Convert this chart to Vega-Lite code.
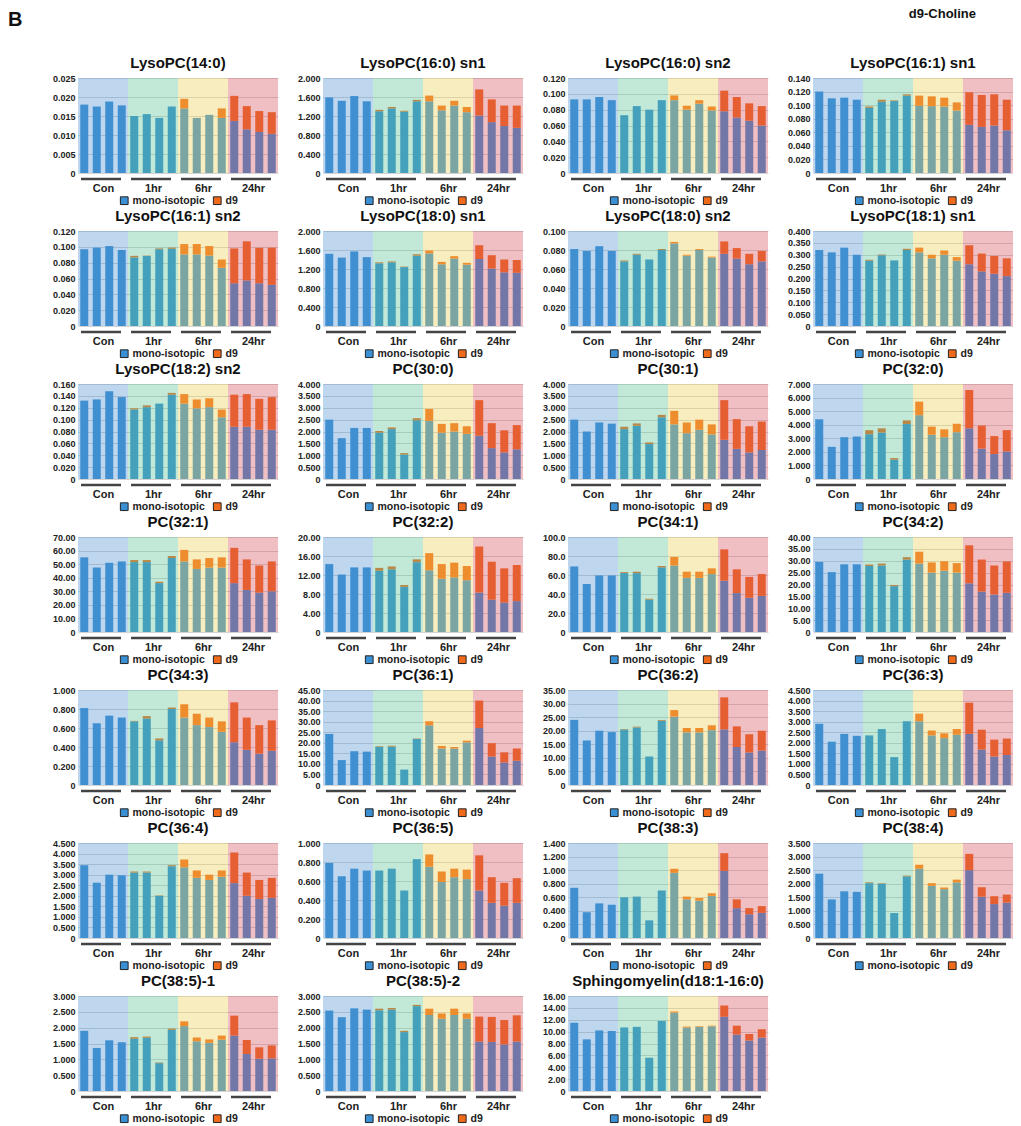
{
"$schema":"https://vega.github.io/schema/vega-lite/v6.json",
"padding":{"left":8,"top":8,"right":0,"bottom":0},
"datasets":{
"g":[{"g":"Con","s":0.5,"e":4.5},{"g":"1hr","s":4.5,"e":8.5},{"g":"6hr","s":8.5,"e":12.5},{"g":"24hr","s":12.5,"e":16.5}],
"v":[
{"k":1,"i":1,"mono-isotopic":0.018,"d9":0},{"k":1,"i":2,"mono-isotopic":0.0175,"d9":0},{"k":1,"i":3,"mono-isotopic":0.0188,"d9":0},{"k":1,"i":4,"mono-isotopic":0.0178,"d9":0},{"k":1,"i":5,"mono-isotopic":0.015,"d9":0},{"k":1,"i":6,"mono-isotopic":0.0155,"d9":0},{"k":1,"i":7,"mono-isotopic":0.0145,"d9":0},{"k":1,"i":8,"mono-isotopic":0.0175,"d9":0},{"k":1,"i":9,"mono-isotopic":0.017,"d9":0.0025},{"k":1,"i":10,"mono-isotopic":0.0145,"d9":0},{"k":1,"i":11,"mono-isotopic":0.0153,"d9":0},{"k":1,"i":12,"mono-isotopic":0.0145,"d9":0.0025},{"k":1,"i":13,"mono-isotopic":0.0137,"d9":0.0066},{"k":1,"i":14,"mono-isotopic":0.0115,"d9":0.0061},{"k":1,"i":15,"mono-isotopic":0.0108,"d9":0.0055},{"k":1,"i":16,"mono-isotopic":0.0103,"d9":0.0057},
{"k":2,"i":1,"mono-isotopic":1.59,"d9":0},{"k":2,"i":2,"mono-isotopic":1.52,"d9":0},{"k":2,"i":3,"mono-isotopic":1.62,"d9":0},{"k":2,"i":4,"mono-isotopic":1.51,"d9":0},{"k":2,"i":5,"mono-isotopic":1.3,"d9":0.03},{"k":2,"i":6,"mono-isotopic":1.36,"d9":0.03},{"k":2,"i":7,"mono-isotopic":1.29,"d9":0.02},{"k":2,"i":8,"mono-isotopic":1.51,"d9":0.03},{"k":2,"i":9,"mono-isotopic":1.51,"d9":0.12},{"k":2,"i":10,"mono-isotopic":1.32,"d9":0.1},{"k":2,"i":11,"mono-isotopic":1.42,"d9":0.1},{"k":2,"i":12,"mono-isotopic":1.28,"d9":0.11},{"k":2,"i":13,"mono-isotopic":1.21,"d9":0.55},{"k":2,"i":14,"mono-isotopic":1.07,"d9":0.48},{"k":2,"i":15,"mono-isotopic":0.99,"d9":0.43},{"k":2,"i":16,"mono-isotopic":0.95,"d9":0.47},
{"k":3,"i":1,"mono-isotopic":0.093,"d9":0},{"k":3,"i":2,"mono-isotopic":0.093,"d9":0},{"k":3,"i":3,"mono-isotopic":0.096,"d9":0},{"k":3,"i":4,"mono-isotopic":0.092,"d9":0},{"k":3,"i":5,"mono-isotopic":0.073,"d9":0},{"k":3,"i":6,"mono-isotopic":0.0845,"d9":0},{"k":3,"i":7,"mono-isotopic":0.08,"d9":0},{"k":3,"i":8,"mono-isotopic":0.092,"d9":0},{"k":3,"i":9,"mono-isotopic":0.092,"d9":0.006},{"k":3,"i":10,"mono-isotopic":0.08,"d9":0.005},{"k":3,"i":11,"mono-isotopic":0.0875,"d9":0.0045},{"k":3,"i":12,"mono-isotopic":0.079,"d9":0.005},{"k":3,"i":13,"mono-isotopic":0.078,"d9":0.026},{"k":3,"i":14,"mono-isotopic":0.07,"d9":0.026},{"k":3,"i":15,"mono-isotopic":0.066,"d9":0.022},{"k":3,"i":16,"mono-isotopic":0.06,"d9":0.0245},
{"k":4,"i":1,"mono-isotopic":0.12,"d9":0},{"k":4,"i":2,"mono-isotopic":0.11,"d9":0},{"k":4,"i":3,"mono-isotopic":0.111,"d9":0},{"k":4,"i":4,"mono-isotopic":0.108,"d9":0},{"k":4,"i":5,"mono-isotopic":0.096,"d9":0.002},{"k":4,"i":6,"mono-isotopic":0.105,"d9":0.003},{"k":4,"i":7,"mono-isotopic":0.106,"d9":0.001},{"k":4,"i":8,"mono-isotopic":0.114,"d9":0.002},{"k":4,"i":9,"mono-isotopic":0.099,"d9":0.015},{"k":4,"i":10,"mono-isotopic":0.0985,"d9":0.0145},{"k":4,"i":11,"mono-isotopic":0.098,"d9":0.013},{"k":4,"i":12,"mono-isotopic":0.092,"d9":0.012},{"k":4,"i":13,"mono-isotopic":0.071,"d9":0.048},{"k":4,"i":14,"mono-isotopic":0.068,"d9":0.047},{"k":4,"i":15,"mono-isotopic":0.07,"d9":0.046},{"k":4,"i":16,"mono-isotopic":0.063,"d9":0.045},
{"k":5,"i":1,"mono-isotopic":0.097,"d9":0},{"k":5,"i":2,"mono-isotopic":0.099,"d9":0},{"k":5,"i":3,"mono-isotopic":0.101,"d9":0},{"k":5,"i":4,"mono-isotopic":0.096,"d9":0},{"k":5,"i":5,"mono-isotopic":0.0866,"d9":0.002},{"k":5,"i":6,"mono-isotopic":0.0884,"d9":0.0005},{"k":5,"i":7,"mono-isotopic":0.097,"d9":0.001},{"k":5,"i":8,"mono-isotopic":0.0975,"d9":0.0015},{"k":5,"i":9,"mono-isotopic":0.0905,"d9":0.013},{"k":5,"i":10,"mono-isotopic":0.0905,"d9":0.013},{"k":5,"i":11,"mono-isotopic":0.089,"d9":0.012},{"k":5,"i":12,"mono-isotopic":0.0736,"d9":0.0104},{"k":5,"i":13,"mono-isotopic":0.054,"d9":0.044},{"k":5,"i":14,"mono-isotopic":0.0576,"d9":0.0494},{"k":5,"i":15,"mono-isotopic":0.054,"d9":0.0448},{"k":5,"i":16,"mono-isotopic":0.052,"d9":0.047},
{"k":6,"i":1,"mono-isotopic":1.52,"d9":0},{"k":6,"i":2,"mono-isotopic":1.44,"d9":0},{"k":6,"i":3,"mono-isotopic":1.57,"d9":0},{"k":6,"i":4,"mono-isotopic":1.45,"d9":0},{"k":6,"i":5,"mono-isotopic":1.32,"d9":0.02},{"k":6,"i":6,"mono-isotopic":1.34,"d9":0.02},{"k":6,"i":7,"mono-isotopic":1.24,"d9":0.01},{"k":6,"i":8,"mono-isotopic":1.48,"d9":0.03},{"k":6,"i":9,"mono-isotopic":1.53,"d9":0.06},{"k":6,"i":10,"mono-isotopic":1.3,"d9":0.05},{"k":6,"i":11,"mono-isotopic":1.42,"d9":0.05},{"k":6,"i":12,"mono-isotopic":1.29,"d9":0.04},{"k":6,"i":13,"mono-isotopic":1.41,"d9":0.29},{"k":6,"i":14,"mono-isotopic":1.21,"d9":0.28},{"k":6,"i":15,"mono-isotopic":1.13,"d9":0.27},{"k":6,"i":16,"mono-isotopic":1.12,"d9":0.27},
{"k":7,"i":1,"mono-isotopic":0.081,"d9":0},{"k":7,"i":2,"mono-isotopic":0.079,"d9":0},{"k":7,"i":3,"mono-isotopic":0.084,"d9":0},{"k":7,"i":4,"mono-isotopic":0.079,"d9":0},{"k":7,"i":5,"mono-isotopic":0.068,"d9":0.001},{"k":7,"i":6,"mono-isotopic":0.075,"d9":0.001},{"k":7,"i":7,"mono-isotopic":0.07,"d9":0},{"k":7,"i":8,"mono-isotopic":0.08,"d9":0.001},{"k":7,"i":9,"mono-isotopic":0.087,"d9":0.0015},{"k":7,"i":10,"mono-isotopic":0.074,"d9":0.001},{"k":7,"i":11,"mono-isotopic":0.08,"d9":0.001},{"k":7,"i":12,"mono-isotopic":0.072,"d9":0.001},{"k":7,"i":13,"mono-isotopic":0.076,"d9":0.013},{"k":7,"i":14,"mono-isotopic":0.071,"d9":0.011},{"k":7,"i":15,"mono-isotopic":0.065,"d9":0.011},{"k":7,"i":16,"mono-isotopic":0.068,"d9":0.011},
{"k":8,"i":1,"mono-isotopic":0.32,"d9":0},{"k":8,"i":2,"mono-isotopic":0.31,"d9":0},{"k":8,"i":3,"mono-isotopic":0.33,"d9":0},{"k":8,"i":4,"mono-isotopic":0.3,"d9":0},{"k":8,"i":5,"mono-isotopic":0.275,"d9":0.004},{"k":8,"i":6,"mono-isotopic":0.298,"d9":0.003},{"k":8,"i":7,"mono-isotopic":0.276,"d9":0},{"k":8,"i":8,"mono-isotopic":0.32,"d9":0.005},{"k":8,"i":9,"mono-isotopic":0.31,"d9":0.02},{"k":8,"i":10,"mono-isotopic":0.285,"d9":0.015},{"k":8,"i":11,"mono-isotopic":0.3,"d9":0.018},{"k":8,"i":12,"mono-isotopic":0.275,"d9":0.015},{"k":8,"i":13,"mono-isotopic":0.26,"d9":0.08},{"k":8,"i":14,"mono-isotopic":0.23,"d9":0.075},{"k":8,"i":15,"mono-isotopic":0.22,"d9":0.075},{"k":8,"i":16,"mono-isotopic":0.21,"d9":0.075},
{"k":9,"i":1,"mono-isotopic":0.132,"d9":0},{"k":9,"i":2,"mono-isotopic":0.134,"d9":0},{"k":9,"i":3,"mono-isotopic":0.148,"d9":0},{"k":9,"i":4,"mono-isotopic":0.138,"d9":0},{"k":9,"i":5,"mono-isotopic":0.117,"d9":0.002},{"k":9,"i":6,"mono-isotopic":0.121,"d9":0.003},{"k":9,"i":7,"mono-isotopic":0.127,"d9":0},{"k":9,"i":8,"mono-isotopic":0.142,"d9":0.003},{"k":9,"i":9,"mono-isotopic":0.127,"d9":0.016},{"k":9,"i":10,"mono-isotopic":0.119,"d9":0.015},{"k":9,"i":11,"mono-isotopic":0.121,"d9":0.015},{"k":9,"i":12,"mono-isotopic":0.104,"d9":0.013},{"k":9,"i":13,"mono-isotopic":0.088,"d9":0.054},{"k":9,"i":14,"mono-isotopic":0.088,"d9":0.055},{"k":9,"i":15,"mono-isotopic":0.083,"d9":0.052},{"k":9,"i":16,"mono-isotopic":0.083,"d9":0.055},
{"k":10,"i":1,"mono-isotopic":2.5,"d9":0},{"k":10,"i":2,"mono-isotopic":1.72,"d9":0},{"k":10,"i":3,"mono-isotopic":2.15,"d9":0},{"k":10,"i":4,"mono-isotopic":2.15,"d9":0},{"k":10,"i":5,"mono-isotopic":1.95,"d9":0.07},{"k":10,"i":6,"mono-isotopic":2.1,"d9":0.07},{"k":10,"i":7,"mono-isotopic":1.03,"d9":0.06},{"k":10,"i":8,"mono-isotopic":2.47,"d9":0.09},{"k":10,"i":9,"mono-isotopic":2.45,"d9":0.5},{"k":10,"i":10,"mono-isotopic":1.95,"d9":0.37},{"k":10,"i":11,"mono-isotopic":2.0,"d9":0.35},{"k":10,"i":12,"mono-isotopic":1.9,"d9":0.32},{"k":10,"i":13,"mono-isotopic":1.82,"d9":1.5},{"k":10,"i":14,"mono-isotopic":1.3,"d9":1.05},{"k":10,"i":15,"mono-isotopic":1.12,"d9":0.93},{"k":10,"i":16,"mono-isotopic":1.25,"d9":1.02},
{"k":11,"i":1,"mono-isotopic":2.5,"d9":0},{"k":11,"i":2,"mono-isotopic":2.0,"d9":0},{"k":11,"i":3,"mono-isotopic":2.38,"d9":0},{"k":11,"i":4,"mono-isotopic":2.33,"d9":0},{"k":11,"i":5,"mono-isotopic":2.1,"d9":0.1},{"k":11,"i":6,"mono-isotopic":2.24,"d9":0.1},{"k":11,"i":7,"mono-isotopic":1.47,"d9":0.07},{"k":11,"i":8,"mono-isotopic":2.6,"d9":0.1},{"k":11,"i":9,"mono-isotopic":2.3,"d9":0.57},{"k":11,"i":10,"mono-isotopic":1.93,"d9":0.45},{"k":11,"i":11,"mono-isotopic":2.07,"d9":0.43},{"k":11,"i":12,"mono-isotopic":1.88,"d9":0.42},{"k":11,"i":13,"mono-isotopic":1.65,"d9":1.67},{"k":11,"i":14,"mono-isotopic":1.27,"d9":1.25},{"k":11,"i":15,"mono-isotopic":1.12,"d9":1.1},{"k":11,"i":16,"mono-isotopic":1.22,"d9":1.2},
{"k":12,"i":1,"mono-isotopic":4.4,"d9":0},{"k":12,"i":2,"mono-isotopic":2.37,"d9":0},{"k":12,"i":3,"mono-isotopic":3.08,"d9":0},{"k":12,"i":4,"mono-isotopic":3.13,"d9":0},{"k":12,"i":5,"mono-isotopic":3.3,"d9":0.3},{"k":12,"i":6,"mono-isotopic":3.42,"d9":0.31},{"k":12,"i":7,"mono-isotopic":1.42,"d9":0.12},{"k":12,"i":8,"mono-isotopic":4.05,"d9":0.27},{"k":12,"i":9,"mono-isotopic":4.7,"d9":1.0},{"k":12,"i":10,"mono-isotopic":3.26,"d9":0.6},{"k":12,"i":11,"mono-isotopic":3.08,"d9":0.58},{"k":12,"i":12,"mono-isotopic":3.45,"d9":0.62},{"k":12,"i":13,"mono-isotopic":3.74,"d9":2.82},{"k":12,"i":14,"mono-isotopic":2.24,"d9":1.7},{"k":12,"i":15,"mono-isotopic":1.84,"d9":1.32},{"k":12,"i":16,"mono-isotopic":2.03,"d9":1.57},
{"k":13,"i":1,"mono-isotopic":55,"d9":0},{"k":13,"i":2,"mono-isotopic":47.5,"d9":0},{"k":13,"i":3,"mono-isotopic":51,"d9":0},{"k":13,"i":4,"mono-isotopic":52,"d9":0},{"k":13,"i":5,"mono-isotopic":51.5,"d9":1.5},{"k":13,"i":6,"mono-isotopic":51.5,"d9":1.5},{"k":13,"i":7,"mono-isotopic":36,"d9":1},{"k":13,"i":8,"mono-isotopic":54.5,"d9":1.5},{"k":13,"i":9,"mono-isotopic":52,"d9":8.5},{"k":13,"i":10,"mono-isotopic":46.5,"d9":7},{"k":13,"i":11,"mono-isotopic":47.5,"d9":7},{"k":13,"i":12,"mono-isotopic":47.5,"d9":7.5},{"k":13,"i":13,"mono-isotopic":36,"d9":26},{"k":13,"i":14,"mono-isotopic":31,"d9":22.5},{"k":13,"i":15,"mono-isotopic":29,"d9":20},{"k":13,"i":16,"mono-isotopic":30,"d9":22},
{"k":14,"i":1,"mono-isotopic":14.3,"d9":0},{"k":14,"i":2,"mono-isotopic":12.1,"d9":0},{"k":14,"i":3,"mono-isotopic":13.6,"d9":0},{"k":14,"i":4,"mono-isotopic":13.6,"d9":0},{"k":14,"i":5,"mono-isotopic":12.9,"d9":0.6},{"k":14,"i":6,"mono-isotopic":13.2,"d9":0.6},{"k":14,"i":7,"mono-isotopic":9.5,"d9":0.4},{"k":14,"i":8,"mono-isotopic":14.7,"d9":0.6},{"k":14,"i":9,"mono-isotopic":13,"d9":3.6},{"k":14,"i":10,"mono-isotopic":11.2,"d9":3.1},{"k":14,"i":11,"mono-isotopic":11.5,"d9":3.1},{"k":14,"i":12,"mono-isotopic":10.9,"d9":3},{"k":14,"i":13,"mono-isotopic":8.3,"d9":9.7},{"k":14,"i":14,"mono-isotopic":6.8,"d9":8},{"k":14,"i":15,"mono-isotopic":6.2,"d9":7.2},{"k":14,"i":16,"mono-isotopic":6.5,"d9":7.6},
{"k":15,"i":1,"mono-isotopic":69,"d9":0},{"k":15,"i":2,"mono-isotopic":50.5,"d9":0},{"k":15,"i":3,"mono-isotopic":59.5,"d9":0},{"k":15,"i":4,"mono-isotopic":59.5,"d9":0},{"k":15,"i":5,"mono-isotopic":62,"d9":1},{"k":15,"i":6,"mono-isotopic":62,"d9":1.5},{"k":15,"i":7,"mono-isotopic":34,"d9":1},{"k":15,"i":8,"mono-isotopic":68,"d9":1.5},{"k":15,"i":9,"mono-isotopic":70,"d9":9},{"k":15,"i":10,"mono-isotopic":57,"d9":6.5},{"k":15,"i":11,"mono-isotopic":57,"d9":6.5},{"k":15,"i":12,"mono-isotopic":61,"d9":6},{"k":15,"i":13,"mono-isotopic":54,"d9":33},{"k":15,"i":14,"mono-isotopic":41,"d9":25},{"k":15,"i":15,"mono-isotopic":36,"d9":22},{"k":15,"i":16,"mono-isotopic":38,"d9":23},
{"k":16,"i":1,"mono-isotopic":29.5,"d9":0},{"k":16,"i":2,"mono-isotopic":25.2,"d9":0},{"k":16,"i":3,"mono-isotopic":28.5,"d9":0},{"k":16,"i":4,"mono-isotopic":28.5,"d9":0},{"k":16,"i":5,"mono-isotopic":27.8,"d9":0.6},{"k":16,"i":6,"mono-isotopic":28,"d9":0.8},{"k":16,"i":7,"mono-isotopic":19.3,"d9":0.5},{"k":16,"i":8,"mono-isotopic":30.5,"d9":1},{"k":16,"i":9,"mono-isotopic":28.8,"d9":5},{"k":16,"i":10,"mono-isotopic":25,"d9":4.3},{"k":16,"i":11,"mono-isotopic":25.8,"d9":4},{"k":16,"i":12,"mono-isotopic":25,"d9":4},{"k":16,"i":13,"mono-isotopic":20.5,"d9":16},{"k":16,"i":14,"mono-isotopic":17,"d9":13.5},{"k":16,"i":15,"mono-isotopic":15.8,"d9":12.2},{"k":16,"i":16,"mono-isotopic":16.5,"d9":13.2},
{"k":17,"i":1,"mono-isotopic":0.81,"d9":0},{"k":17,"i":2,"mono-isotopic":0.65,"d9":0},{"k":17,"i":3,"mono-isotopic":0.73,"d9":0},{"k":17,"i":4,"mono-isotopic":0.71,"d9":0},{"k":17,"i":5,"mono-isotopic":0.67,"d9":0.005},{"k":17,"i":6,"mono-isotopic":0.7,"d9":0.025},{"k":17,"i":7,"mono-isotopic":0.47,"d9":0.02},{"k":17,"i":8,"mono-isotopic":0.8,"d9":0.015},{"k":17,"i":9,"mono-isotopic":0.71,"d9":0.14},{"k":17,"i":10,"mono-isotopic":0.63,"d9":0.12},{"k":17,"i":11,"mono-isotopic":0.61,"d9":0.1},{"k":17,"i":12,"mono-isotopic":0.56,"d9":0.11},{"k":17,"i":13,"mono-isotopic":0.45,"d9":0.42},{"k":17,"i":14,"mono-isotopic":0.37,"d9":0.34},{"k":17,"i":15,"mono-isotopic":0.33,"d9":0.3},{"k":17,"i":16,"mono-isotopic":0.36,"d9":0.32},
{"k":18,"i":1,"mono-isotopic":24.2,"d9":0},{"k":18,"i":2,"mono-isotopic":11.8,"d9":0},{"k":18,"i":3,"mono-isotopic":16,"d9":0},{"k":18,"i":4,"mono-isotopic":15.8,"d9":0},{"k":18,"i":5,"mono-isotopic":18,"d9":0.3},{"k":18,"i":6,"mono-isotopic":18.2,"d9":0.4},{"k":18,"i":7,"mono-isotopic":7.3,"d9":0},{"k":18,"i":8,"mono-isotopic":21.8,"d9":0.2},{"k":18,"i":9,"mono-isotopic":28.3,"d9":1.9},{"k":18,"i":10,"mono-isotopic":17.3,"d9":1.2},{"k":18,"i":11,"mono-isotopic":17.3,"d9":0.7},{"k":18,"i":12,"mono-isotopic":20.2,"d9":0.8},{"k":18,"i":13,"mono-isotopic":27,"d9":13},{"k":18,"i":14,"mono-isotopic":13.5,"d9":6.3},{"k":18,"i":15,"mono-isotopic":10.7,"d9":4.8},{"k":18,"i":16,"mono-isotopic":11.5,"d9":5.8},
{"k":19,"i":1,"mono-isotopic":24,"d9":0},{"k":19,"i":2,"mono-isotopic":16.4,"d9":0},{"k":19,"i":3,"mono-isotopic":20,"d9":0},{"k":19,"i":4,"mono-isotopic":19.5,"d9":0},{"k":19,"i":5,"mono-isotopic":20.4,"d9":0.2},{"k":19,"i":6,"mono-isotopic":21.2,"d9":0.3},{"k":19,"i":7,"mono-isotopic":10.5,"d9":0},{"k":19,"i":8,"mono-isotopic":23.6,"d9":0.3},{"k":19,"i":9,"mono-isotopic":25.2,"d9":2.4},{"k":19,"i":10,"mono-isotopic":19.4,"d9":1.6},{"k":19,"i":11,"mono-isotopic":19.4,"d9":1.6},{"k":19,"i":12,"mono-isotopic":20.2,"d9":1.8},{"k":19,"i":13,"mono-isotopic":20.5,"d9":11.8},{"k":19,"i":14,"mono-isotopic":14,"d9":7.6},{"k":19,"i":15,"mono-isotopic":12,"d9":6.7},{"k":19,"i":16,"mono-isotopic":12.7,"d9":7.3},
{"k":20,"i":1,"mono-isotopic":2.9,"d9":0},{"k":20,"i":2,"mono-isotopic":2.05,"d9":0},{"k":20,"i":3,"mono-isotopic":2.42,"d9":0},{"k":20,"i":4,"mono-isotopic":2.33,"d9":0},{"k":20,"i":5,"mono-isotopic":2.35,"d9":0},{"k":20,"i":6,"mono-isotopic":2.65,"d9":0},{"k":20,"i":7,"mono-isotopic":1.32,"d9":0},{"k":20,"i":8,"mono-isotopic":3.02,"d9":0},{"k":20,"i":9,"mono-isotopic":3.02,"d9":0.36},{"k":20,"i":10,"mono-isotopic":2.35,"d9":0.23},{"k":20,"i":11,"mono-isotopic":2.22,"d9":0.23},{"k":20,"i":12,"mono-isotopic":2.38,"d9":0.27},{"k":20,"i":13,"mono-isotopic":2.42,"d9":1.48},{"k":20,"i":14,"mono-isotopic":1.68,"d9":0.94},{"k":20,"i":15,"mono-isotopic":1.35,"d9":0.8},{"k":20,"i":16,"mono-isotopic":1.42,"d9":0.78},
{"k":21,"i":1,"mono-isotopic":3.45,"d9":0},{"k":21,"i":2,"mono-isotopic":2.62,"d9":0},{"k":21,"i":3,"mono-isotopic":3.0,"d9":0},{"k":21,"i":4,"mono-isotopic":2.97,"d9":0},{"k":21,"i":5,"mono-isotopic":3.1,"d9":0.05},{"k":21,"i":6,"mono-isotopic":3.1,"d9":0.05},{"k":21,"i":7,"mono-isotopic":2.0,"d9":0.02},{"k":21,"i":8,"mono-isotopic":3.4,"d9":0.05},{"k":21,"i":9,"mono-isotopic":3.35,"d9":0.37},{"k":21,"i":10,"mono-isotopic":2.85,"d9":0.35},{"k":21,"i":11,"mono-isotopic":2.75,"d9":0.25},{"k":21,"i":12,"mono-isotopic":2.9,"d9":0.3},{"k":21,"i":13,"mono-isotopic":2.6,"d9":1.45},{"k":21,"i":14,"mono-isotopic":2.0,"d9":1.1},{"k":21,"i":15,"mono-isotopic":1.85,"d9":0.9},{"k":21,"i":16,"mono-isotopic":1.9,"d9":0.95},
{"k":22,"i":1,"mono-isotopic":0.79,"d9":0},{"k":22,"i":2,"mono-isotopic":0.65,"d9":0},{"k":22,"i":3,"mono-isotopic":0.73,"d9":0},{"k":22,"i":4,"mono-isotopic":0.71,"d9":0},{"k":22,"i":5,"mono-isotopic":0.71,"d9":0},{"k":22,"i":6,"mono-isotopic":0.73,"d9":0},{"k":22,"i":7,"mono-isotopic":0.5,"d9":0},{"k":22,"i":8,"mono-isotopic":0.83,"d9":0},{"k":22,"i":9,"mono-isotopic":0.75,"d9":0.13},{"k":22,"i":10,"mono-isotopic":0.59,"d9":0.11},{"k":22,"i":11,"mono-isotopic":0.64,"d9":0.09},{"k":22,"i":12,"mono-isotopic":0.62,"d9":0.1},{"k":22,"i":13,"mono-isotopic":0.5,"d9":0.37},{"k":22,"i":14,"mono-isotopic":0.37,"d9":0.27},{"k":22,"i":15,"mono-isotopic":0.34,"d9":0.24},{"k":22,"i":16,"mono-isotopic":0.37,"d9":0.26},
{"k":23,"i":1,"mono-isotopic":0.74,"d9":0},{"k":23,"i":2,"mono-isotopic":0.38,"d9":0},{"k":23,"i":3,"mono-isotopic":0.51,"d9":0},{"k":23,"i":4,"mono-isotopic":0.49,"d9":0},{"k":23,"i":5,"mono-isotopic":0.6,"d9":0},{"k":23,"i":6,"mono-isotopic":0.61,"d9":0},{"k":23,"i":7,"mono-isotopic":0.26,"d9":0},{"k":23,"i":8,"mono-isotopic":0.7,"d9":0},{"k":23,"i":9,"mono-isotopic":0.96,"d9":0.06},{"k":23,"i":10,"mono-isotopic":0.57,"d9":0.04},{"k":23,"i":11,"mono-isotopic":0.55,"d9":0.04},{"k":23,"i":12,"mono-isotopic":0.62,"d9":0.04},{"k":23,"i":13,"mono-isotopic":0.99,"d9":0.26},{"k":23,"i":14,"mono-isotopic":0.44,"d9":0.13},{"k":23,"i":15,"mono-isotopic":0.35,"d9":0.09},{"k":23,"i":16,"mono-isotopic":0.37,"d9":0.1},
{"k":24,"i":1,"mono-isotopic":2.37,"d9":0},{"k":24,"i":2,"mono-isotopic":1.42,"d9":0},{"k":24,"i":3,"mono-isotopic":1.72,"d9":0},{"k":24,"i":4,"mono-isotopic":1.7,"d9":0},{"k":24,"i":5,"mono-isotopic":2.02,"d9":0.03},{"k":24,"i":6,"mono-isotopic":2.0,"d9":0.02},{"k":24,"i":7,"mono-isotopic":0.92,"d9":0},{"k":24,"i":8,"mono-isotopic":2.27,"d9":0.03},{"k":24,"i":9,"mono-isotopic":2.55,"d9":0.15},{"k":24,"i":10,"mono-isotopic":1.92,"d9":0.1},{"k":24,"i":11,"mono-isotopic":1.8,"d9":0.06},{"k":24,"i":12,"mono-isotopic":2.05,"d9":0.1},{"k":24,"i":13,"mono-isotopic":2.5,"d9":0.6},{"k":24,"i":14,"mono-isotopic":1.52,"d9":0.35},{"k":24,"i":15,"mono-isotopic":1.25,"d9":0.29},{"k":24,"i":16,"mono-isotopic":1.3,"d9":0.3},
{"k":25,"i":1,"mono-isotopic":1.9,"d9":0},{"k":25,"i":2,"mono-isotopic":1.36,"d9":0},{"k":25,"i":3,"mono-isotopic":1.6,"d9":0},{"k":25,"i":4,"mono-isotopic":1.54,"d9":0},{"k":25,"i":5,"mono-isotopic":1.65,"d9":0.05},{"k":25,"i":6,"mono-isotopic":1.68,"d9":0.04},{"k":25,"i":7,"mono-isotopic":0.88,"d9":0.02},{"k":25,"i":8,"mono-isotopic":1.93,"d9":0.04},{"k":25,"i":9,"mono-isotopic":2.05,"d9":0.15},{"k":25,"i":10,"mono-isotopic":1.57,"d9":0.12},{"k":25,"i":11,"mono-isotopic":1.52,"d9":0.11},{"k":25,"i":12,"mono-isotopic":1.62,"d9":0.13},{"k":25,"i":13,"mono-isotopic":1.75,"d9":0.63},{"k":25,"i":14,"mono-isotopic":1.17,"d9":0.44},{"k":25,"i":15,"mono-isotopic":1.02,"d9":0.36},{"k":25,"i":16,"mono-isotopic":1.03,"d9":0.41},
{"k":26,"i":1,"mono-isotopic":2.54,"d9":0},{"k":26,"i":2,"mono-isotopic":2.33,"d9":0},{"k":26,"i":3,"mono-isotopic":2.61,"d9":0},{"k":26,"i":4,"mono-isotopic":2.57,"d9":0},{"k":26,"i":5,"mono-isotopic":2.55,"d9":0.05},{"k":26,"i":6,"mono-isotopic":2.57,"d9":0.05},{"k":26,"i":7,"mono-isotopic":1.86,"d9":0.04},{"k":26,"i":8,"mono-isotopic":2.68,"d9":0.04},{"k":26,"i":9,"mono-isotopic":2.4,"d9":0.2},{"k":26,"i":10,"mono-isotopic":2.28,"d9":0.17},{"k":26,"i":11,"mono-isotopic":2.4,"d9":0.2},{"k":26,"i":12,"mono-isotopic":2.28,"d9":0.17},{"k":26,"i":13,"mono-isotopic":1.56,"d9":0.79},{"k":26,"i":14,"mono-isotopic":1.55,"d9":0.79},{"k":26,"i":15,"mono-isotopic":1.47,"d9":0.77},{"k":26,"i":16,"mono-isotopic":1.56,"d9":0.83},
{"k":27,"i":1,"mono-isotopic":11.5,"d9":0},{"k":27,"i":2,"mono-isotopic":8.7,"d9":0},{"k":27,"i":3,"mono-isotopic":10.2,"d9":0},{"k":27,"i":4,"mono-isotopic":10.1,"d9":0},{"k":27,"i":5,"mono-isotopic":10.7,"d9":0},{"k":27,"i":6,"mono-isotopic":10.8,"d9":0},{"k":27,"i":7,"mono-isotopic":5.6,"d9":0},{"k":27,"i":8,"mono-isotopic":11.8,"d9":0},{"k":27,"i":9,"mono-isotopic":13.2,"d9":0.2},{"k":27,"i":10,"mono-isotopic":10.7,"d9":0.15},{"k":27,"i":11,"mono-isotopic":10.8,"d9":0.1},{"k":27,"i":12,"mono-isotopic":10.9,"d9":0.1},{"k":27,"i":13,"mono-isotopic":12.5,"d9":1.9},{"k":27,"i":14,"mono-isotopic":9.5,"d9":1.5},{"k":27,"i":15,"mono-isotopic":8.5,"d9":1.1},{"k":27,"i":16,"mono-isotopic":9,"d9":1.4}
]},
"hconcat":[
{"width":39,"height":10,"title":{"text":"B","anchor":"start","fontSize":20,"offset":48},"data":{"values":[]},"mark":{"type":"point"}},
{
"title":{"text":"d9-Choline","anchor":"end","fontSize":13,"dx":-37,"offset":35},
"columns":4,
"spacing":{"row":2,"column":19},
"resolve":{"scale":{"color":"independent","fill":"independent"},"legend":{"color":"independent"}},
"concat":[
{"title":"LysoPC(14:0)","width":200,"height":95,"layer":[{"data":{"name":"v"},"transform":[{"filter":"datum.k==1"},{"fold":["mono-isotopic","d9"],"as":["iso","val"]}],"mark":{"type":"bar","width":8},"encoding":{"x":{"field":"i","type":"quantitative","scale":{"domain":[0.5,16.5],"nice":false,"zero":false,"padding":0},"axis":{"values":[2.5,6.5,10.5,14.5],"labelExpr":"datum.value<3?'Con':datum.value<7?'1hr':datum.value<11?'6hr':'24hr'","title":null}},"y":{"field":"val","type":"quantitative","stack":"zero","scale":{"domain":[0,0.025],"nice":false},"axis":{"values":[0,0.005,0.01,0.015,0.02,0.025],"labelExpr":"datum.value==0?'0':format(datum.value,'.3f')","title":null}},"color":{"field":"iso","type":"nominal","scale":{"domain":["mono-isotopic","d9"],"range":["#3b8fd3","#f06a1c"]},"legend":{"title":null}},"order":{"field":"iso","sort":"descending"}}},{"data":{"name":"g"},"mark":{"type":"rect","opacity":0.355},"encoding":{"x":{"field":"s","type":"quantitative","axis":{"title":null}},"x2":{"field":"e"},"y":{"value":0},"y2":{"value":"height"},"fill":{"field":"g","type":"nominal","scale":{"domain":["Con","1hr","6hr","24hr"],"range":["#4a90d0","#53be91","#ebcc4d","#d54d59"]},"legend":null}}},{"data":{"name":"g"},"mark":{"type":"rule","color":"#444","strokeWidth":2.5,"yOffset":6,"xOffset":3,"x2Offset":-7},"encoding":{"x":{"field":"s","type":"quantitative","axis":{"title":null}},"x2":{"field":"e"},"y":{"value":"height"}}}]},
{"title":"LysoPC(16:0) sn1","width":200,"height":95,"layer":[{"data":{"name":"v"},"transform":[{"filter":"datum.k==2"},{"fold":["mono-isotopic","d9"],"as":["iso","val"]}],"mark":{"type":"bar","width":8},"encoding":{"x":{"field":"i","type":"quantitative","scale":{"domain":[0.5,16.5],"nice":false,"zero":false,"padding":0},"axis":{"values":[2.5,6.5,10.5,14.5],"labelExpr":"datum.value<3?'Con':datum.value<7?'1hr':datum.value<11?'6hr':'24hr'","title":null}},"y":{"field":"val","type":"quantitative","stack":"zero","scale":{"domain":[0,2],"nice":false},"axis":{"values":[0,0.4,0.8,1.2,1.6,2],"labelExpr":"datum.value==0?'0':format(datum.value,'.3f')","title":null}},"color":{"field":"iso","type":"nominal","scale":{"domain":["mono-isotopic","d9"],"range":["#3b8fd3","#f06a1c"]},"legend":{"title":null}},"order":{"field":"iso","sort":"descending"}}},{"data":{"name":"g"},"mark":{"type":"rect","opacity":0.355},"encoding":{"x":{"field":"s","type":"quantitative","axis":{"title":null}},"x2":{"field":"e"},"y":{"value":0},"y2":{"value":"height"},"fill":{"field":"g","type":"nominal","scale":{"domain":["Con","1hr","6hr","24hr"],"range":["#4a90d0","#53be91","#ebcc4d","#d54d59"]},"legend":null}}},{"data":{"name":"g"},"mark":{"type":"rule","color":"#444","strokeWidth":2.5,"yOffset":6,"xOffset":3,"x2Offset":-7},"encoding":{"x":{"field":"s","type":"quantitative","axis":{"title":null}},"x2":{"field":"e"},"y":{"value":"height"}}}]},
{"title":"LysoPC(16:0) sn2","width":200,"height":95,"layer":[{"data":{"name":"v"},"transform":[{"filter":"datum.k==3"},{"fold":["mono-isotopic","d9"],"as":["iso","val"]}],"mark":{"type":"bar","width":8},"encoding":{"x":{"field":"i","type":"quantitative","scale":{"domain":[0.5,16.5],"nice":false,"zero":false,"padding":0},"axis":{"values":[2.5,6.5,10.5,14.5],"labelExpr":"datum.value<3?'Con':datum.value<7?'1hr':datum.value<11?'6hr':'24hr'","title":null}},"y":{"field":"val","type":"quantitative","stack":"zero","scale":{"domain":[0,0.12],"nice":false},"axis":{"values":[0,0.02,0.04,0.06,0.08,0.1,0.12],"labelExpr":"datum.value==0?'0':format(datum.value,'.3f')","title":null}},"color":{"field":"iso","type":"nominal","scale":{"domain":["mono-isotopic","d9"],"range":["#3b8fd3","#f06a1c"]},"legend":{"title":null}},"order":{"field":"iso","sort":"descending"}}},{"data":{"name":"g"},"mark":{"type":"rect","opacity":0.355},"encoding":{"x":{"field":"s","type":"quantitative","axis":{"title":null}},"x2":{"field":"e"},"y":{"value":0},"y2":{"value":"height"},"fill":{"field":"g","type":"nominal","scale":{"domain":["Con","1hr","6hr","24hr"],"range":["#4a90d0","#53be91","#ebcc4d","#d54d59"]},"legend":null}}},{"data":{"name":"g"},"mark":{"type":"rule","color":"#444","strokeWidth":2.5,"yOffset":6,"xOffset":3,"x2Offset":-7},"encoding":{"x":{"field":"s","type":"quantitative","axis":{"title":null}},"x2":{"field":"e"},"y":{"value":"height"}}}]},
{"title":"LysoPC(16:1) sn1","width":200,"height":95,"layer":[{"data":{"name":"v"},"transform":[{"filter":"datum.k==4"},{"fold":["mono-isotopic","d9"],"as":["iso","val"]}],"mark":{"type":"bar","width":8},"encoding":{"x":{"field":"i","type":"quantitative","scale":{"domain":[0.5,16.5],"nice":false,"zero":false,"padding":0},"axis":{"values":[2.5,6.5,10.5,14.5],"labelExpr":"datum.value<3?'Con':datum.value<7?'1hr':datum.value<11?'6hr':'24hr'","title":null}},"y":{"field":"val","type":"quantitative","stack":"zero","scale":{"domain":[0,0.14],"nice":false},"axis":{"values":[0,0.02,0.04,0.06,0.08,0.1,0.12,0.14],"labelExpr":"datum.value==0?'0':format(datum.value,'.3f')","title":null}},"color":{"field":"iso","type":"nominal","scale":{"domain":["mono-isotopic","d9"],"range":["#3b8fd3","#f06a1c"]},"legend":{"title":null}},"order":{"field":"iso","sort":"descending"}}},{"data":{"name":"g"},"mark":{"type":"rect","opacity":0.355},"encoding":{"x":{"field":"s","type":"quantitative","axis":{"title":null}},"x2":{"field":"e"},"y":{"value":0},"y2":{"value":"height"},"fill":{"field":"g","type":"nominal","scale":{"domain":["Con","1hr","6hr","24hr"],"range":["#4a90d0","#53be91","#ebcc4d","#d54d59"]},"legend":null}}},{"data":{"name":"g"},"mark":{"type":"rule","color":"#444","strokeWidth":2.5,"yOffset":6,"xOffset":3,"x2Offset":-7},"encoding":{"x":{"field":"s","type":"quantitative","axis":{"title":null}},"x2":{"field":"e"},"y":{"value":"height"}}}]},
{"title":"LysoPC(16:1) sn2","width":200,"height":95,"layer":[{"data":{"name":"v"},"transform":[{"filter":"datum.k==5"},{"fold":["mono-isotopic","d9"],"as":["iso","val"]}],"mark":{"type":"bar","width":8},"encoding":{"x":{"field":"i","type":"quantitative","scale":{"domain":[0.5,16.5],"nice":false,"zero":false,"padding":0},"axis":{"values":[2.5,6.5,10.5,14.5],"labelExpr":"datum.value<3?'Con':datum.value<7?'1hr':datum.value<11?'6hr':'24hr'","title":null}},"y":{"field":"val","type":"quantitative","stack":"zero","scale":{"domain":[0,0.12],"nice":false},"axis":{"values":[0,0.02,0.04,0.06,0.08,0.1,0.12],"labelExpr":"datum.value==0?'0':format(datum.value,'.3f')","title":null}},"color":{"field":"iso","type":"nominal","scale":{"domain":["mono-isotopic","d9"],"range":["#3b8fd3","#f06a1c"]},"legend":{"title":null}},"order":{"field":"iso","sort":"descending"}}},{"data":{"name":"g"},"mark":{"type":"rect","opacity":0.355},"encoding":{"x":{"field":"s","type":"quantitative","axis":{"title":null}},"x2":{"field":"e"},"y":{"value":0},"y2":{"value":"height"},"fill":{"field":"g","type":"nominal","scale":{"domain":["Con","1hr","6hr","24hr"],"range":["#4a90d0","#53be91","#ebcc4d","#d54d59"]},"legend":null}}},{"data":{"name":"g"},"mark":{"type":"rule","color":"#444","strokeWidth":2.5,"yOffset":6,"xOffset":3,"x2Offset":-7},"encoding":{"x":{"field":"s","type":"quantitative","axis":{"title":null}},"x2":{"field":"e"},"y":{"value":"height"}}}]},
{"title":"LysoPC(18:0) sn1","width":200,"height":95,"layer":[{"data":{"name":"v"},"transform":[{"filter":"datum.k==6"},{"fold":["mono-isotopic","d9"],"as":["iso","val"]}],"mark":{"type":"bar","width":8},"encoding":{"x":{"field":"i","type":"quantitative","scale":{"domain":[0.5,16.5],"nice":false,"zero":false,"padding":0},"axis":{"values":[2.5,6.5,10.5,14.5],"labelExpr":"datum.value<3?'Con':datum.value<7?'1hr':datum.value<11?'6hr':'24hr'","title":null}},"y":{"field":"val","type":"quantitative","stack":"zero","scale":{"domain":[0,2],"nice":false},"axis":{"values":[0,0.4,0.8,1.2,1.6,2],"labelExpr":"datum.value==0?'0':format(datum.value,'.3f')","title":null}},"color":{"field":"iso","type":"nominal","scale":{"domain":["mono-isotopic","d9"],"range":["#3b8fd3","#f06a1c"]},"legend":{"title":null}},"order":{"field":"iso","sort":"descending"}}},{"data":{"name":"g"},"mark":{"type":"rect","opacity":0.355},"encoding":{"x":{"field":"s","type":"quantitative","axis":{"title":null}},"x2":{"field":"e"},"y":{"value":0},"y2":{"value":"height"},"fill":{"field":"g","type":"nominal","scale":{"domain":["Con","1hr","6hr","24hr"],"range":["#4a90d0","#53be91","#ebcc4d","#d54d59"]},"legend":null}}},{"data":{"name":"g"},"mark":{"type":"rule","color":"#444","strokeWidth":2.5,"yOffset":6,"xOffset":3,"x2Offset":-7},"encoding":{"x":{"field":"s","type":"quantitative","axis":{"title":null}},"x2":{"field":"e"},"y":{"value":"height"}}}]},
{"title":"LysoPC(18:0) sn2","width":200,"height":95,"layer":[{"data":{"name":"v"},"transform":[{"filter":"datum.k==7"},{"fold":["mono-isotopic","d9"],"as":["iso","val"]}],"mark":{"type":"bar","width":8},"encoding":{"x":{"field":"i","type":"quantitative","scale":{"domain":[0.5,16.5],"nice":false,"zero":false,"padding":0},"axis":{"values":[2.5,6.5,10.5,14.5],"labelExpr":"datum.value<3?'Con':datum.value<7?'1hr':datum.value<11?'6hr':'24hr'","title":null}},"y":{"field":"val","type":"quantitative","stack":"zero","scale":{"domain":[0,0.1],"nice":false},"axis":{"values":[0,0.02,0.04,0.06,0.08,0.1],"labelExpr":"datum.value==0?'0':format(datum.value,'.3f')","title":null}},"color":{"field":"iso","type":"nominal","scale":{"domain":["mono-isotopic","d9"],"range":["#3b8fd3","#f06a1c"]},"legend":{"title":null}},"order":{"field":"iso","sort":"descending"}}},{"data":{"name":"g"},"mark":{"type":"rect","opacity":0.355},"encoding":{"x":{"field":"s","type":"quantitative","axis":{"title":null}},"x2":{"field":"e"},"y":{"value":0},"y2":{"value":"height"},"fill":{"field":"g","type":"nominal","scale":{"domain":["Con","1hr","6hr","24hr"],"range":["#4a90d0","#53be91","#ebcc4d","#d54d59"]},"legend":null}}},{"data":{"name":"g"},"mark":{"type":"rule","color":"#444","strokeWidth":2.5,"yOffset":6,"xOffset":3,"x2Offset":-7},"encoding":{"x":{"field":"s","type":"quantitative","axis":{"title":null}},"x2":{"field":"e"},"y":{"value":"height"}}}]},
{"title":"LysoPC(18:1) sn1","width":200,"height":95,"layer":[{"data":{"name":"v"},"transform":[{"filter":"datum.k==8"},{"fold":["mono-isotopic","d9"],"as":["iso","val"]}],"mark":{"type":"bar","width":8},"encoding":{"x":{"field":"i","type":"quantitative","scale":{"domain":[0.5,16.5],"nice":false,"zero":false,"padding":0},"axis":{"values":[2.5,6.5,10.5,14.5],"labelExpr":"datum.value<3?'Con':datum.value<7?'1hr':datum.value<11?'6hr':'24hr'","title":null}},"y":{"field":"val","type":"quantitative","stack":"zero","scale":{"domain":[0,0.4],"nice":false},"axis":{"values":[0,0.05,0.1,0.15,0.2,0.25,0.3,0.35,0.4],"labelExpr":"datum.value==0?'0':format(datum.value,'.3f')","title":null}},"color":{"field":"iso","type":"nominal","scale":{"domain":["mono-isotopic","d9"],"range":["#3b8fd3","#f06a1c"]},"legend":{"title":null}},"order":{"field":"iso","sort":"descending"}}},{"data":{"name":"g"},"mark":{"type":"rect","opacity":0.355},"encoding":{"x":{"field":"s","type":"quantitative","axis":{"title":null}},"x2":{"field":"e"},"y":{"value":0},"y2":{"value":"height"},"fill":{"field":"g","type":"nominal","scale":{"domain":["Con","1hr","6hr","24hr"],"range":["#4a90d0","#53be91","#ebcc4d","#d54d59"]},"legend":null}}},{"data":{"name":"g"},"mark":{"type":"rule","color":"#444","strokeWidth":2.5,"yOffset":6,"xOffset":3,"x2Offset":-7},"encoding":{"x":{"field":"s","type":"quantitative","axis":{"title":null}},"x2":{"field":"e"},"y":{"value":"height"}}}]},
{"title":"LysoPC(18:2) sn2","width":200,"height":95,"layer":[{"data":{"name":"v"},"transform":[{"filter":"datum.k==9"},{"fold":["mono-isotopic","d9"],"as":["iso","val"]}],"mark":{"type":"bar","width":8},"encoding":{"x":{"field":"i","type":"quantitative","scale":{"domain":[0.5,16.5],"nice":false,"zero":false,"padding":0},"axis":{"values":[2.5,6.5,10.5,14.5],"labelExpr":"datum.value<3?'Con':datum.value<7?'1hr':datum.value<11?'6hr':'24hr'","title":null}},"y":{"field":"val","type":"quantitative","stack":"zero","scale":{"domain":[0,0.16],"nice":false},"axis":{"values":[0,0.02,0.04,0.06,0.08,0.1,0.12,0.14,0.16],"labelExpr":"datum.value==0?'0':format(datum.value,'.3f')","title":null}},"color":{"field":"iso","type":"nominal","scale":{"domain":["mono-isotopic","d9"],"range":["#3b8fd3","#f06a1c"]},"legend":{"title":null}},"order":{"field":"iso","sort":"descending"}}},{"data":{"name":"g"},"mark":{"type":"rect","opacity":0.355},"encoding":{"x":{"field":"s","type":"quantitative","axis":{"title":null}},"x2":{"field":"e"},"y":{"value":0},"y2":{"value":"height"},"fill":{"field":"g","type":"nominal","scale":{"domain":["Con","1hr","6hr","24hr"],"range":["#4a90d0","#53be91","#ebcc4d","#d54d59"]},"legend":null}}},{"data":{"name":"g"},"mark":{"type":"rule","color":"#444","strokeWidth":2.5,"yOffset":6,"xOffset":3,"x2Offset":-7},"encoding":{"x":{"field":"s","type":"quantitative","axis":{"title":null}},"x2":{"field":"e"},"y":{"value":"height"}}}]},
{"title":"PC(30:0)","width":200,"height":95,"layer":[{"data":{"name":"v"},"transform":[{"filter":"datum.k==10"},{"fold":["mono-isotopic","d9"],"as":["iso","val"]}],"mark":{"type":"bar","width":8},"encoding":{"x":{"field":"i","type":"quantitative","scale":{"domain":[0.5,16.5],"nice":false,"zero":false,"padding":0},"axis":{"values":[2.5,6.5,10.5,14.5],"labelExpr":"datum.value<3?'Con':datum.value<7?'1hr':datum.value<11?'6hr':'24hr'","title":null}},"y":{"field":"val","type":"quantitative","stack":"zero","scale":{"domain":[0,4],"nice":false},"axis":{"values":[0,0.5,1,1.5,2,2.5,3,3.5,4],"labelExpr":"datum.value==0?'0':format(datum.value,'.3f')","title":null}},"color":{"field":"iso","type":"nominal","scale":{"domain":["mono-isotopic","d9"],"range":["#3b8fd3","#f06a1c"]},"legend":{"title":null}},"order":{"field":"iso","sort":"descending"}}},{"data":{"name":"g"},"mark":{"type":"rect","opacity":0.355},"encoding":{"x":{"field":"s","type":"quantitative","axis":{"title":null}},"x2":{"field":"e"},"y":{"value":0},"y2":{"value":"height"},"fill":{"field":"g","type":"nominal","scale":{"domain":["Con","1hr","6hr","24hr"],"range":["#4a90d0","#53be91","#ebcc4d","#d54d59"]},"legend":null}}},{"data":{"name":"g"},"mark":{"type":"rule","color":"#444","strokeWidth":2.5,"yOffset":6,"xOffset":3,"x2Offset":-7},"encoding":{"x":{"field":"s","type":"quantitative","axis":{"title":null}},"x2":{"field":"e"},"y":{"value":"height"}}}]},
{"title":"PC(30:1)","width":200,"height":95,"layer":[{"data":{"name":"v"},"transform":[{"filter":"datum.k==11"},{"fold":["mono-isotopic","d9"],"as":["iso","val"]}],"mark":{"type":"bar","width":8},"encoding":{"x":{"field":"i","type":"quantitative","scale":{"domain":[0.5,16.5],"nice":false,"zero":false,"padding":0},"axis":{"values":[2.5,6.5,10.5,14.5],"labelExpr":"datum.value<3?'Con':datum.value<7?'1hr':datum.value<11?'6hr':'24hr'","title":null}},"y":{"field":"val","type":"quantitative","stack":"zero","scale":{"domain":[0,4],"nice":false},"axis":{"values":[0,0.5,1,1.5,2,2.5,3,3.5,4],"labelExpr":"datum.value==0?'0':format(datum.value,'.3f')","title":null}},"color":{"field":"iso","type":"nominal","scale":{"domain":["mono-isotopic","d9"],"range":["#3b8fd3","#f06a1c"]},"legend":{"title":null}},"order":{"field":"iso","sort":"descending"}}},{"data":{"name":"g"},"mark":{"type":"rect","opacity":0.355},"encoding":{"x":{"field":"s","type":"quantitative","axis":{"title":null}},"x2":{"field":"e"},"y":{"value":0},"y2":{"value":"height"},"fill":{"field":"g","type":"nominal","scale":{"domain":["Con","1hr","6hr","24hr"],"range":["#4a90d0","#53be91","#ebcc4d","#d54d59"]},"legend":null}}},{"data":{"name":"g"},"mark":{"type":"rule","color":"#444","strokeWidth":2.5,"yOffset":6,"xOffset":3,"x2Offset":-7},"encoding":{"x":{"field":"s","type":"quantitative","axis":{"title":null}},"x2":{"field":"e"},"y":{"value":"height"}}}]},
{"title":"PC(32:0)","width":200,"height":95,"layer":[{"data":{"name":"v"},"transform":[{"filter":"datum.k==12"},{"fold":["mono-isotopic","d9"],"as":["iso","val"]}],"mark":{"type":"bar","width":8},"encoding":{"x":{"field":"i","type":"quantitative","scale":{"domain":[0.5,16.5],"nice":false,"zero":false,"padding":0},"axis":{"values":[2.5,6.5,10.5,14.5],"labelExpr":"datum.value<3?'Con':datum.value<7?'1hr':datum.value<11?'6hr':'24hr'","title":null}},"y":{"field":"val","type":"quantitative","stack":"zero","scale":{"domain":[0,7],"nice":false},"axis":{"values":[0,1,2,3,4,5,6,7],"labelExpr":"datum.value==0?'0':format(datum.value,'.3f')","title":null}},"color":{"field":"iso","type":"nominal","scale":{"domain":["mono-isotopic","d9"],"range":["#3b8fd3","#f06a1c"]},"legend":{"title":null}},"order":{"field":"iso","sort":"descending"}}},{"data":{"name":"g"},"mark":{"type":"rect","opacity":0.355},"encoding":{"x":{"field":"s","type":"quantitative","axis":{"title":null}},"x2":{"field":"e"},"y":{"value":0},"y2":{"value":"height"},"fill":{"field":"g","type":"nominal","scale":{"domain":["Con","1hr","6hr","24hr"],"range":["#4a90d0","#53be91","#ebcc4d","#d54d59"]},"legend":null}}},{"data":{"name":"g"},"mark":{"type":"rule","color":"#444","strokeWidth":2.5,"yOffset":6,"xOffset":3,"x2Offset":-7},"encoding":{"x":{"field":"s","type":"quantitative","axis":{"title":null}},"x2":{"field":"e"},"y":{"value":"height"}}}]},
{"title":"PC(32:1)","width":200,"height":95,"layer":[{"data":{"name":"v"},"transform":[{"filter":"datum.k==13"},{"fold":["mono-isotopic","d9"],"as":["iso","val"]}],"mark":{"type":"bar","width":8},"encoding":{"x":{"field":"i","type":"quantitative","scale":{"domain":[0.5,16.5],"nice":false,"zero":false,"padding":0},"axis":{"values":[2.5,6.5,10.5,14.5],"labelExpr":"datum.value<3?'Con':datum.value<7?'1hr':datum.value<11?'6hr':'24hr'","title":null}},"y":{"field":"val","type":"quantitative","stack":"zero","scale":{"domain":[0,70],"nice":false},"axis":{"values":[0,10,20,30,40,50,60,70],"labelExpr":"datum.value==0?'0':format(datum.value,'.2f')","title":null}},"color":{"field":"iso","type":"nominal","scale":{"domain":["mono-isotopic","d9"],"range":["#3b8fd3","#f06a1c"]},"legend":{"title":null}},"order":{"field":"iso","sort":"descending"}}},{"data":{"name":"g"},"mark":{"type":"rect","opacity":0.355},"encoding":{"x":{"field":"s","type":"quantitative","axis":{"title":null}},"x2":{"field":"e"},"y":{"value":0},"y2":{"value":"height"},"fill":{"field":"g","type":"nominal","scale":{"domain":["Con","1hr","6hr","24hr"],"range":["#4a90d0","#53be91","#ebcc4d","#d54d59"]},"legend":null}}},{"data":{"name":"g"},"mark":{"type":"rule","color":"#444","strokeWidth":2.5,"yOffset":6,"xOffset":3,"x2Offset":-7},"encoding":{"x":{"field":"s","type":"quantitative","axis":{"title":null}},"x2":{"field":"e"},"y":{"value":"height"}}}]},
{"title":"PC(32:2)","width":200,"height":95,"layer":[{"data":{"name":"v"},"transform":[{"filter":"datum.k==14"},{"fold":["mono-isotopic","d9"],"as":["iso","val"]}],"mark":{"type":"bar","width":8},"encoding":{"x":{"field":"i","type":"quantitative","scale":{"domain":[0.5,16.5],"nice":false,"zero":false,"padding":0},"axis":{"values":[2.5,6.5,10.5,14.5],"labelExpr":"datum.value<3?'Con':datum.value<7?'1hr':datum.value<11?'6hr':'24hr'","title":null}},"y":{"field":"val","type":"quantitative","stack":"zero","scale":{"domain":[0,20],"nice":false},"axis":{"values":[0,4,8,12,16,20],"labelExpr":"datum.value==0?'0':format(datum.value,'.2f')","title":null}},"color":{"field":"iso","type":"nominal","scale":{"domain":["mono-isotopic","d9"],"range":["#3b8fd3","#f06a1c"]},"legend":{"title":null}},"order":{"field":"iso","sort":"descending"}}},{"data":{"name":"g"},"mark":{"type":"rect","opacity":0.355},"encoding":{"x":{"field":"s","type":"quantitative","axis":{"title":null}},"x2":{"field":"e"},"y":{"value":0},"y2":{"value":"height"},"fill":{"field":"g","type":"nominal","scale":{"domain":["Con","1hr","6hr","24hr"],"range":["#4a90d0","#53be91","#ebcc4d","#d54d59"]},"legend":null}}},{"data":{"name":"g"},"mark":{"type":"rule","color":"#444","strokeWidth":2.5,"yOffset":6,"xOffset":3,"x2Offset":-7},"encoding":{"x":{"field":"s","type":"quantitative","axis":{"title":null}},"x2":{"field":"e"},"y":{"value":"height"}}}]},
{"title":"PC(34:1)","width":200,"height":95,"layer":[{"data":{"name":"v"},"transform":[{"filter":"datum.k==15"},{"fold":["mono-isotopic","d9"],"as":["iso","val"]}],"mark":{"type":"bar","width":8},"encoding":{"x":{"field":"i","type":"quantitative","scale":{"domain":[0.5,16.5],"nice":false,"zero":false,"padding":0},"axis":{"values":[2.5,6.5,10.5,14.5],"labelExpr":"datum.value<3?'Con':datum.value<7?'1hr':datum.value<11?'6hr':'24hr'","title":null}},"y":{"field":"val","type":"quantitative","stack":"zero","scale":{"domain":[0,100],"nice":false},"axis":{"values":[0,20,40,60,80,100],"labelExpr":"datum.value==0?'0':format(datum.value,'.1f')","title":null}},"color":{"field":"iso","type":"nominal","scale":{"domain":["mono-isotopic","d9"],"range":["#3b8fd3","#f06a1c"]},"legend":{"title":null}},"order":{"field":"iso","sort":"descending"}}},{"data":{"name":"g"},"mark":{"type":"rect","opacity":0.355},"encoding":{"x":{"field":"s","type":"quantitative","axis":{"title":null}},"x2":{"field":"e"},"y":{"value":0},"y2":{"value":"height"},"fill":{"field":"g","type":"nominal","scale":{"domain":["Con","1hr","6hr","24hr"],"range":["#4a90d0","#53be91","#ebcc4d","#d54d59"]},"legend":null}}},{"data":{"name":"g"},"mark":{"type":"rule","color":"#444","strokeWidth":2.5,"yOffset":6,"xOffset":3,"x2Offset":-7},"encoding":{"x":{"field":"s","type":"quantitative","axis":{"title":null}},"x2":{"field":"e"},"y":{"value":"height"}}}]},
{"title":"PC(34:2)","width":200,"height":95,"layer":[{"data":{"name":"v"},"transform":[{"filter":"datum.k==16"},{"fold":["mono-isotopic","d9"],"as":["iso","val"]}],"mark":{"type":"bar","width":8},"encoding":{"x":{"field":"i","type":"quantitative","scale":{"domain":[0.5,16.5],"nice":false,"zero":false,"padding":0},"axis":{"values":[2.5,6.5,10.5,14.5],"labelExpr":"datum.value<3?'Con':datum.value<7?'1hr':datum.value<11?'6hr':'24hr'","title":null}},"y":{"field":"val","type":"quantitative","stack":"zero","scale":{"domain":[0,40],"nice":false},"axis":{"values":[0,5,10,15,20,25,30,35,40],"labelExpr":"datum.value==0?'0':format(datum.value,'.2f')","title":null}},"color":{"field":"iso","type":"nominal","scale":{"domain":["mono-isotopic","d9"],"range":["#3b8fd3","#f06a1c"]},"legend":{"title":null}},"order":{"field":"iso","sort":"descending"}}},{"data":{"name":"g"},"mark":{"type":"rect","opacity":0.355},"encoding":{"x":{"field":"s","type":"quantitative","axis":{"title":null}},"x2":{"field":"e"},"y":{"value":0},"y2":{"value":"height"},"fill":{"field":"g","type":"nominal","scale":{"domain":["Con","1hr","6hr","24hr"],"range":["#4a90d0","#53be91","#ebcc4d","#d54d59"]},"legend":null}}},{"data":{"name":"g"},"mark":{"type":"rule","color":"#444","strokeWidth":2.5,"yOffset":6,"xOffset":3,"x2Offset":-7},"encoding":{"x":{"field":"s","type":"quantitative","axis":{"title":null}},"x2":{"field":"e"},"y":{"value":"height"}}}]},
{"title":"PC(34:3)","width":200,"height":95,"layer":[{"data":{"name":"v"},"transform":[{"filter":"datum.k==17"},{"fold":["mono-isotopic","d9"],"as":["iso","val"]}],"mark":{"type":"bar","width":8},"encoding":{"x":{"field":"i","type":"quantitative","scale":{"domain":[0.5,16.5],"nice":false,"zero":false,"padding":0},"axis":{"values":[2.5,6.5,10.5,14.5],"labelExpr":"datum.value<3?'Con':datum.value<7?'1hr':datum.value<11?'6hr':'24hr'","title":null}},"y":{"field":"val","type":"quantitative","stack":"zero","scale":{"domain":[0,1],"nice":false},"axis":{"values":[0,0.2,0.4,0.6,0.8,1],"labelExpr":"datum.value==0?'0':format(datum.value,'.3f')","title":null}},"color":{"field":"iso","type":"nominal","scale":{"domain":["mono-isotopic","d9"],"range":["#3b8fd3","#f06a1c"]},"legend":{"title":null}},"order":{"field":"iso","sort":"descending"}}},{"data":{"name":"g"},"mark":{"type":"rect","opacity":0.355},"encoding":{"x":{"field":"s","type":"quantitative","axis":{"title":null}},"x2":{"field":"e"},"y":{"value":0},"y2":{"value":"height"},"fill":{"field":"g","type":"nominal","scale":{"domain":["Con","1hr","6hr","24hr"],"range":["#4a90d0","#53be91","#ebcc4d","#d54d59"]},"legend":null}}},{"data":{"name":"g"},"mark":{"type":"rule","color":"#444","strokeWidth":2.5,"yOffset":6,"xOffset":3,"x2Offset":-7},"encoding":{"x":{"field":"s","type":"quantitative","axis":{"title":null}},"x2":{"field":"e"},"y":{"value":"height"}}}]},
{"title":"PC(36:1)","width":200,"height":95,"layer":[{"data":{"name":"v"},"transform":[{"filter":"datum.k==18"},{"fold":["mono-isotopic","d9"],"as":["iso","val"]}],"mark":{"type":"bar","width":8},"encoding":{"x":{"field":"i","type":"quantitative","scale":{"domain":[0.5,16.5],"nice":false,"zero":false,"padding":0},"axis":{"values":[2.5,6.5,10.5,14.5],"labelExpr":"datum.value<3?'Con':datum.value<7?'1hr':datum.value<11?'6hr':'24hr'","title":null}},"y":{"field":"val","type":"quantitative","stack":"zero","scale":{"domain":[0,45],"nice":false},"axis":{"values":[0,5,10,15,20,25,30,35,40,45],"labelExpr":"datum.value==0?'0':format(datum.value,'.2f')","title":null}},"color":{"field":"iso","type":"nominal","scale":{"domain":["mono-isotopic","d9"],"range":["#3b8fd3","#f06a1c"]},"legend":{"title":null}},"order":{"field":"iso","sort":"descending"}}},{"data":{"name":"g"},"mark":{"type":"rect","opacity":0.355},"encoding":{"x":{"field":"s","type":"quantitative","axis":{"title":null}},"x2":{"field":"e"},"y":{"value":0},"y2":{"value":"height"},"fill":{"field":"g","type":"nominal","scale":{"domain":["Con","1hr","6hr","24hr"],"range":["#4a90d0","#53be91","#ebcc4d","#d54d59"]},"legend":null}}},{"data":{"name":"g"},"mark":{"type":"rule","color":"#444","strokeWidth":2.5,"yOffset":6,"xOffset":3,"x2Offset":-7},"encoding":{"x":{"field":"s","type":"quantitative","axis":{"title":null}},"x2":{"field":"e"},"y":{"value":"height"}}}]},
{"title":"PC(36:2)","width":200,"height":95,"layer":[{"data":{"name":"v"},"transform":[{"filter":"datum.k==19"},{"fold":["mono-isotopic","d9"],"as":["iso","val"]}],"mark":{"type":"bar","width":8},"encoding":{"x":{"field":"i","type":"quantitative","scale":{"domain":[0.5,16.5],"nice":false,"zero":false,"padding":0},"axis":{"values":[2.5,6.5,10.5,14.5],"labelExpr":"datum.value<3?'Con':datum.value<7?'1hr':datum.value<11?'6hr':'24hr'","title":null}},"y":{"field":"val","type":"quantitative","stack":"zero","scale":{"domain":[0,35],"nice":false},"axis":{"values":[0,5,10,15,20,25,30,35],"labelExpr":"datum.value==0?'0':format(datum.value,'.2f')","title":null}},"color":{"field":"iso","type":"nominal","scale":{"domain":["mono-isotopic","d9"],"range":["#3b8fd3","#f06a1c"]},"legend":{"title":null}},"order":{"field":"iso","sort":"descending"}}},{"data":{"name":"g"},"mark":{"type":"rect","opacity":0.355},"encoding":{"x":{"field":"s","type":"quantitative","axis":{"title":null}},"x2":{"field":"e"},"y":{"value":0},"y2":{"value":"height"},"fill":{"field":"g","type":"nominal","scale":{"domain":["Con","1hr","6hr","24hr"],"range":["#4a90d0","#53be91","#ebcc4d","#d54d59"]},"legend":null}}},{"data":{"name":"g"},"mark":{"type":"rule","color":"#444","strokeWidth":2.5,"yOffset":6,"xOffset":3,"x2Offset":-7},"encoding":{"x":{"field":"s","type":"quantitative","axis":{"title":null}},"x2":{"field":"e"},"y":{"value":"height"}}}]},
{"title":"PC(36:3)","width":200,"height":95,"layer":[{"data":{"name":"v"},"transform":[{"filter":"datum.k==20"},{"fold":["mono-isotopic","d9"],"as":["iso","val"]}],"mark":{"type":"bar","width":8},"encoding":{"x":{"field":"i","type":"quantitative","scale":{"domain":[0.5,16.5],"nice":false,"zero":false,"padding":0},"axis":{"values":[2.5,6.5,10.5,14.5],"labelExpr":"datum.value<3?'Con':datum.value<7?'1hr':datum.value<11?'6hr':'24hr'","title":null}},"y":{"field":"val","type":"quantitative","stack":"zero","scale":{"domain":[0,4.5],"nice":false},"axis":{"values":[0,0.5,1,1.5,2,2.5,3,3.5,4,4.5],"labelExpr":"datum.value==0?'0':format(datum.value,'.3f')","title":null}},"color":{"field":"iso","type":"nominal","scale":{"domain":["mono-isotopic","d9"],"range":["#3b8fd3","#f06a1c"]},"legend":{"title":null}},"order":{"field":"iso","sort":"descending"}}},{"data":{"name":"g"},"mark":{"type":"rect","opacity":0.355},"encoding":{"x":{"field":"s","type":"quantitative","axis":{"title":null}},"x2":{"field":"e"},"y":{"value":0},"y2":{"value":"height"},"fill":{"field":"g","type":"nominal","scale":{"domain":["Con","1hr","6hr","24hr"],"range":["#4a90d0","#53be91","#ebcc4d","#d54d59"]},"legend":null}}},{"data":{"name":"g"},"mark":{"type":"rule","color":"#444","strokeWidth":2.5,"yOffset":6,"xOffset":3,"x2Offset":-7},"encoding":{"x":{"field":"s","type":"quantitative","axis":{"title":null}},"x2":{"field":"e"},"y":{"value":"height"}}}]},
{"title":"PC(36:4)","width":200,"height":95,"layer":[{"data":{"name":"v"},"transform":[{"filter":"datum.k==21"},{"fold":["mono-isotopic","d9"],"as":["iso","val"]}],"mark":{"type":"bar","width":8},"encoding":{"x":{"field":"i","type":"quantitative","scale":{"domain":[0.5,16.5],"nice":false,"zero":false,"padding":0},"axis":{"values":[2.5,6.5,10.5,14.5],"labelExpr":"datum.value<3?'Con':datum.value<7?'1hr':datum.value<11?'6hr':'24hr'","title":null}},"y":{"field":"val","type":"quantitative","stack":"zero","scale":{"domain":[0,4.5],"nice":false},"axis":{"values":[0,0.5,1,1.5,2,2.5,3,3.5,4,4.5],"labelExpr":"datum.value==0?'0':format(datum.value,'.3f')","title":null}},"color":{"field":"iso","type":"nominal","scale":{"domain":["mono-isotopic","d9"],"range":["#3b8fd3","#f06a1c"]},"legend":{"title":null}},"order":{"field":"iso","sort":"descending"}}},{"data":{"name":"g"},"mark":{"type":"rect","opacity":0.355},"encoding":{"x":{"field":"s","type":"quantitative","axis":{"title":null}},"x2":{"field":"e"},"y":{"value":0},"y2":{"value":"height"},"fill":{"field":"g","type":"nominal","scale":{"domain":["Con","1hr","6hr","24hr"],"range":["#4a90d0","#53be91","#ebcc4d","#d54d59"]},"legend":null}}},{"data":{"name":"g"},"mark":{"type":"rule","color":"#444","strokeWidth":2.5,"yOffset":6,"xOffset":3,"x2Offset":-7},"encoding":{"x":{"field":"s","type":"quantitative","axis":{"title":null}},"x2":{"field":"e"},"y":{"value":"height"}}}]},
{"title":"PC(36:5)","width":200,"height":95,"layer":[{"data":{"name":"v"},"transform":[{"filter":"datum.k==22"},{"fold":["mono-isotopic","d9"],"as":["iso","val"]}],"mark":{"type":"bar","width":8},"encoding":{"x":{"field":"i","type":"quantitative","scale":{"domain":[0.5,16.5],"nice":false,"zero":false,"padding":0},"axis":{"values":[2.5,6.5,10.5,14.5],"labelExpr":"datum.value<3?'Con':datum.value<7?'1hr':datum.value<11?'6hr':'24hr'","title":null}},"y":{"field":"val","type":"quantitative","stack":"zero","scale":{"domain":[0,1],"nice":false},"axis":{"values":[0,0.2,0.4,0.6,0.8,1],"labelExpr":"datum.value==0?'0':format(datum.value,'.3f')","title":null}},"color":{"field":"iso","type":"nominal","scale":{"domain":["mono-isotopic","d9"],"range":["#3b8fd3","#f06a1c"]},"legend":{"title":null}},"order":{"field":"iso","sort":"descending"}}},{"data":{"name":"g"},"mark":{"type":"rect","opacity":0.355},"encoding":{"x":{"field":"s","type":"quantitative","axis":{"title":null}},"x2":{"field":"e"},"y":{"value":0},"y2":{"value":"height"},"fill":{"field":"g","type":"nominal","scale":{"domain":["Con","1hr","6hr","24hr"],"range":["#4a90d0","#53be91","#ebcc4d","#d54d59"]},"legend":null}}},{"data":{"name":"g"},"mark":{"type":"rule","color":"#444","strokeWidth":2.5,"yOffset":6,"xOffset":3,"x2Offset":-7},"encoding":{"x":{"field":"s","type":"quantitative","axis":{"title":null}},"x2":{"field":"e"},"y":{"value":"height"}}}]},
{"title":"PC(38:3)","width":200,"height":95,"layer":[{"data":{"name":"v"},"transform":[{"filter":"datum.k==23"},{"fold":["mono-isotopic","d9"],"as":["iso","val"]}],"mark":{"type":"bar","width":8},"encoding":{"x":{"field":"i","type":"quantitative","scale":{"domain":[0.5,16.5],"nice":false,"zero":false,"padding":0},"axis":{"values":[2.5,6.5,10.5,14.5],"labelExpr":"datum.value<3?'Con':datum.value<7?'1hr':datum.value<11?'6hr':'24hr'","title":null}},"y":{"field":"val","type":"quantitative","stack":"zero","scale":{"domain":[0,1.4],"nice":false},"axis":{"values":[0,0.2,0.4,0.6,0.8,1,1.2,1.4],"labelExpr":"datum.value==0?'0':format(datum.value,'.3f')","title":null}},"color":{"field":"iso","type":"nominal","scale":{"domain":["mono-isotopic","d9"],"range":["#3b8fd3","#f06a1c"]},"legend":{"title":null}},"order":{"field":"iso","sort":"descending"}}},{"data":{"name":"g"},"mark":{"type":"rect","opacity":0.355},"encoding":{"x":{"field":"s","type":"quantitative","axis":{"title":null}},"x2":{"field":"e"},"y":{"value":0},"y2":{"value":"height"},"fill":{"field":"g","type":"nominal","scale":{"domain":["Con","1hr","6hr","24hr"],"range":["#4a90d0","#53be91","#ebcc4d","#d54d59"]},"legend":null}}},{"data":{"name":"g"},"mark":{"type":"rule","color":"#444","strokeWidth":2.5,"yOffset":6,"xOffset":3,"x2Offset":-7},"encoding":{"x":{"field":"s","type":"quantitative","axis":{"title":null}},"x2":{"field":"e"},"y":{"value":"height"}}}]},
{"title":"PC(38:4)","width":200,"height":95,"layer":[{"data":{"name":"v"},"transform":[{"filter":"datum.k==24"},{"fold":["mono-isotopic","d9"],"as":["iso","val"]}],"mark":{"type":"bar","width":8},"encoding":{"x":{"field":"i","type":"quantitative","scale":{"domain":[0.5,16.5],"nice":false,"zero":false,"padding":0},"axis":{"values":[2.5,6.5,10.5,14.5],"labelExpr":"datum.value<3?'Con':datum.value<7?'1hr':datum.value<11?'6hr':'24hr'","title":null}},"y":{"field":"val","type":"quantitative","stack":"zero","scale":{"domain":[0,3.5],"nice":false},"axis":{"values":[0,0.5,1,1.5,2,2.5,3,3.5],"labelExpr":"datum.value==0?'0':format(datum.value,'.3f')","title":null}},"color":{"field":"iso","type":"nominal","scale":{"domain":["mono-isotopic","d9"],"range":["#3b8fd3","#f06a1c"]},"legend":{"title":null}},"order":{"field":"iso","sort":"descending"}}},{"data":{"name":"g"},"mark":{"type":"rect","opacity":0.355},"encoding":{"x":{"field":"s","type":"quantitative","axis":{"title":null}},"x2":{"field":"e"},"y":{"value":0},"y2":{"value":"height"},"fill":{"field":"g","type":"nominal","scale":{"domain":["Con","1hr","6hr","24hr"],"range":["#4a90d0","#53be91","#ebcc4d","#d54d59"]},"legend":null}}},{"data":{"name":"g"},"mark":{"type":"rule","color":"#444","strokeWidth":2.5,"yOffset":6,"xOffset":3,"x2Offset":-7},"encoding":{"x":{"field":"s","type":"quantitative","axis":{"title":null}},"x2":{"field":"e"},"y":{"value":"height"}}}]},
{"title":"PC(38:5)-1","width":200,"height":95,"layer":[{"data":{"name":"v"},"transform":[{"filter":"datum.k==25"},{"fold":["mono-isotopic","d9"],"as":["iso","val"]}],"mark":{"type":"bar","width":8},"encoding":{"x":{"field":"i","type":"quantitative","scale":{"domain":[0.5,16.5],"nice":false,"zero":false,"padding":0},"axis":{"values":[2.5,6.5,10.5,14.5],"labelExpr":"datum.value<3?'Con':datum.value<7?'1hr':datum.value<11?'6hr':'24hr'","title":null}},"y":{"field":"val","type":"quantitative","stack":"zero","scale":{"domain":[0,3],"nice":false},"axis":{"values":[0,0.5,1,1.5,2,2.5,3],"labelExpr":"datum.value==0?'0':format(datum.value,'.3f')","title":null}},"color":{"field":"iso","type":"nominal","scale":{"domain":["mono-isotopic","d9"],"range":["#3b8fd3","#f06a1c"]},"legend":{"title":null}},"order":{"field":"iso","sort":"descending"}}},{"data":{"name":"g"},"mark":{"type":"rect","opacity":0.355},"encoding":{"x":{"field":"s","type":"quantitative","axis":{"title":null}},"x2":{"field":"e"},"y":{"value":0},"y2":{"value":"height"},"fill":{"field":"g","type":"nominal","scale":{"domain":["Con","1hr","6hr","24hr"],"range":["#4a90d0","#53be91","#ebcc4d","#d54d59"]},"legend":null}}},{"data":{"name":"g"},"mark":{"type":"rule","color":"#444","strokeWidth":2.5,"yOffset":6,"xOffset":3,"x2Offset":-7},"encoding":{"x":{"field":"s","type":"quantitative","axis":{"title":null}},"x2":{"field":"e"},"y":{"value":"height"}}}]},
{"title":"PC(38:5)-2","width":200,"height":95,"layer":[{"data":{"name":"v"},"transform":[{"filter":"datum.k==26"},{"fold":["mono-isotopic","d9"],"as":["iso","val"]}],"mark":{"type":"bar","width":8},"encoding":{"x":{"field":"i","type":"quantitative","scale":{"domain":[0.5,16.5],"nice":false,"zero":false,"padding":0},"axis":{"values":[2.5,6.5,10.5,14.5],"labelExpr":"datum.value<3?'Con':datum.value<7?'1hr':datum.value<11?'6hr':'24hr'","title":null}},"y":{"field":"val","type":"quantitative","stack":"zero","scale":{"domain":[0,3],"nice":false},"axis":{"values":[0,0.5,1,1.5,2,2.5,3],"labelExpr":"datum.value==0?'0':format(datum.value,'.3f')","title":null}},"color":{"field":"iso","type":"nominal","scale":{"domain":["mono-isotopic","d9"],"range":["#3b8fd3","#f06a1c"]},"legend":{"title":null}},"order":{"field":"iso","sort":"descending"}}},{"data":{"name":"g"},"mark":{"type":"rect","opacity":0.355},"encoding":{"x":{"field":"s","type":"quantitative","axis":{"title":null}},"x2":{"field":"e"},"y":{"value":0},"y2":{"value":"height"},"fill":{"field":"g","type":"nominal","scale":{"domain":["Con","1hr","6hr","24hr"],"range":["#4a90d0","#53be91","#ebcc4d","#d54d59"]},"legend":null}}},{"data":{"name":"g"},"mark":{"type":"rule","color":"#444","strokeWidth":2.5,"yOffset":6,"xOffset":3,"x2Offset":-7},"encoding":{"x":{"field":"s","type":"quantitative","axis":{"title":null}},"x2":{"field":"e"},"y":{"value":"height"}}}]},
{"title":"Sphingomyelin(d18:1-16:0)","width":200,"height":95,"layer":[{"data":{"name":"v"},"transform":[{"filter":"datum.k==27"},{"fold":["mono-isotopic","d9"],"as":["iso","val"]}],"mark":{"type":"bar","width":8},"encoding":{"x":{"field":"i","type":"quantitative","scale":{"domain":[0.5,16.5],"nice":false,"zero":false,"padding":0},"axis":{"values":[2.5,6.5,10.5,14.5],"labelExpr":"datum.value<3?'Con':datum.value<7?'1hr':datum.value<11?'6hr':'24hr'","title":null}},"y":{"field":"val","type":"quantitative","stack":"zero","scale":{"domain":[0,16],"nice":false},"axis":{"values":[0,2,4,6,8,10,12,14,16],"labelExpr":"datum.value==0?'0':format(datum.value,'.2f')","title":null}},"color":{"field":"iso","type":"nominal","scale":{"domain":["mono-isotopic","d9"],"range":["#3b8fd3","#f06a1c"]},"legend":{"title":null}},"order":{"field":"iso","sort":"descending"}}},{"data":{"name":"g"},"mark":{"type":"rect","opacity":0.355},"encoding":{"x":{"field":"s","type":"quantitative","axis":{"title":null}},"x2":{"field":"e"},"y":{"value":0},"y2":{"value":"height"},"fill":{"field":"g","type":"nominal","scale":{"domain":["Con","1hr","6hr","24hr"],"range":["#4a90d0","#53be91","#ebcc4d","#d54d59"]},"legend":null}}},{"data":{"name":"g"},"mark":{"type":"rule","color":"#444","strokeWidth":2.5,"yOffset":6,"xOffset":3,"x2Offset":-7},"encoding":{"x":{"field":"s","type":"quantitative","axis":{"title":null}},"x2":{"field":"e"},"y":{"value":"height"}}}]}
]}],
"spacing":5,
"resolve":{"scale":{"color":"independent","fill":"independent"},"legend":{"color":"independent"}},
"config":{
"view":{"stroke":null},
"font":"Liberation Sans",
"axis":{"labelFontWeight":"bold","labelColor":"#222","ticks":false,"domain":false},
"axisY":{"grid":true,"gridColor":"#d4d4d4","labelFontSize":9,"labelPadding":3,"labelFont":"Liberation Sans Narrow, Liberation Sans"},
"axisX":{"grid":false,"labelFontSize":11,"labelPadding":9,"labelFont":"Liberation Sans"},
"legend":{"orient":"bottom","direction":"horizontal","symbolType":"square","symbolSize":60,"symbolStrokeColor":"#222","symbolStrokeWidth":1,"labelFontSize":10.5,"labelFontWeight":"bold","labelFont":"Liberation Sans","labelColor":"#222","columnPadding":6,"offset":2,"padding":0,"labelOffset":3,"layout":{"bottom":{"anchor":"middle"}}},
"title":{"fontSize":15,"fontWeight":"bold","font":"Liberation Sans","color":"#111","offset":3}
}
}
